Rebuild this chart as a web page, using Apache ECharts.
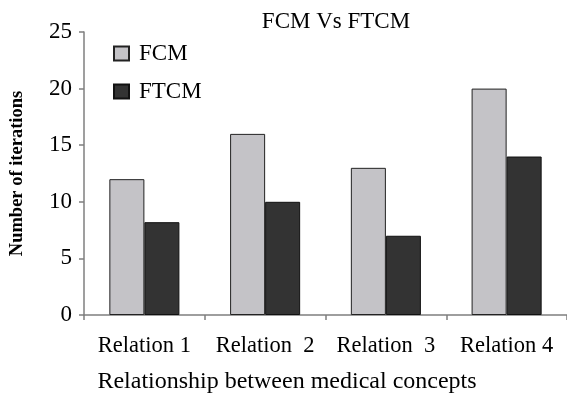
<!DOCTYPE html>
<html>
<head>
<meta charset="utf-8">
<script src="https://cdn.jsdelivr.net/npm/echarts@6/dist/echarts.min.js"></script>
<style>
  html, body { margin: 0; padding: 0; background: #fff; }
  #chart { width: 567px; height: 403px; }
</style>
</head>
<body>
<div id="chart"></div>
<script>
const categories = ['Relation 1', 'Relation  2', 'Relation  3', 'Relation 4']
const fcm = [12, 16, 13, 20]
const ftcm = [8.2, 10, 7, 14]
const yTicks = { min: 0, max: 25, interval: 5 }

const font = 'Liberation Serif, Times New Roman, serif'
const chart = echarts.init(document.getElementById('chart'))

const option = {
  animation: false,
  textStyle: { fontFamily: font, color: '#000' },
  title: {
    text: 'FCM Vs FTCM',
    left: 331, top: 5, textAlign: 'center',
    textStyle: { fontFamily: font, fontSize: 23, fontWeight: 'normal', color: '#000' }
  },
  legend: {
    orient: 'vertical',
    left: 108, top: 37,
    icon: 'rect',
    itemWidth: 15, itemHeight: 14,
    itemGap: 15,
    data: ['FCM', 'FTCM'],
    textStyle: { fontFamily: font, fontSize: 23, color: '#000', padding: [0, 0, 0, 5] }
  },
  grid: { left: 83, right: 0, top: 32, bottom: 88 },
  xAxis: {
    type: 'category',
    data: categories,
    name: 'Relationship between medical concepts',
    nameLocation: 'middle',
    nameGap: 55,
    nameTextStyle: { fontFamily: font, fontSize: 24, color: '#000', padding: [0, 77, 0, 0] },
    axisLine: { lineStyle: { color: '#7f7f7f', width: 1.5 } },
    axisTick: { show: true, interval: 0, length: 5, lineStyle: { color: '#7f7f7f', width: 1.5 } },
    axisLabel: { interval: 0, hideOverlap: false, fontFamily: font, fontSize: 22.5, color: '#000', margin: 20 }
  },
  yAxis: {
    type: 'value',
    min: yTicks.min, max: yTicks.max, interval: yTicks.interval,
    name: 'Number of iterations',
    nameLocation: 'middle',
    nameGap: 57,
    nameTextStyle: { fontFamily: font, fontSize: 18.5, fontWeight: 'bold', color: '#000' },
    axisLine: { show: true, lineStyle: { color: '#7f7f7f', width: 1.5 } },
    axisTick: { show: true, length: 5, lineStyle: { color: '#7f7f7f', width: 1.5 } },
    axisLabel: { fontFamily: font, fontSize: 23, color: '#000', margin: 12 },
    splitLine: { show: false }
  },
  series: [
    {
      name: 'FCM', type: 'bar', data: fcm,
      barGap: '0%', barCategoryGap: '42%',
      itemStyle: { color: '#c4c3c7', borderColor: '#222', borderWidth: 1 }
    },
    {
      name: 'FTCM', type: 'bar', data: ftcm,
      itemStyle: { color: '#333333', borderColor: '#111', borderWidth: 1 }
    }
  ]
}

chart.setOption(option)
</script>
</body>
</html>
